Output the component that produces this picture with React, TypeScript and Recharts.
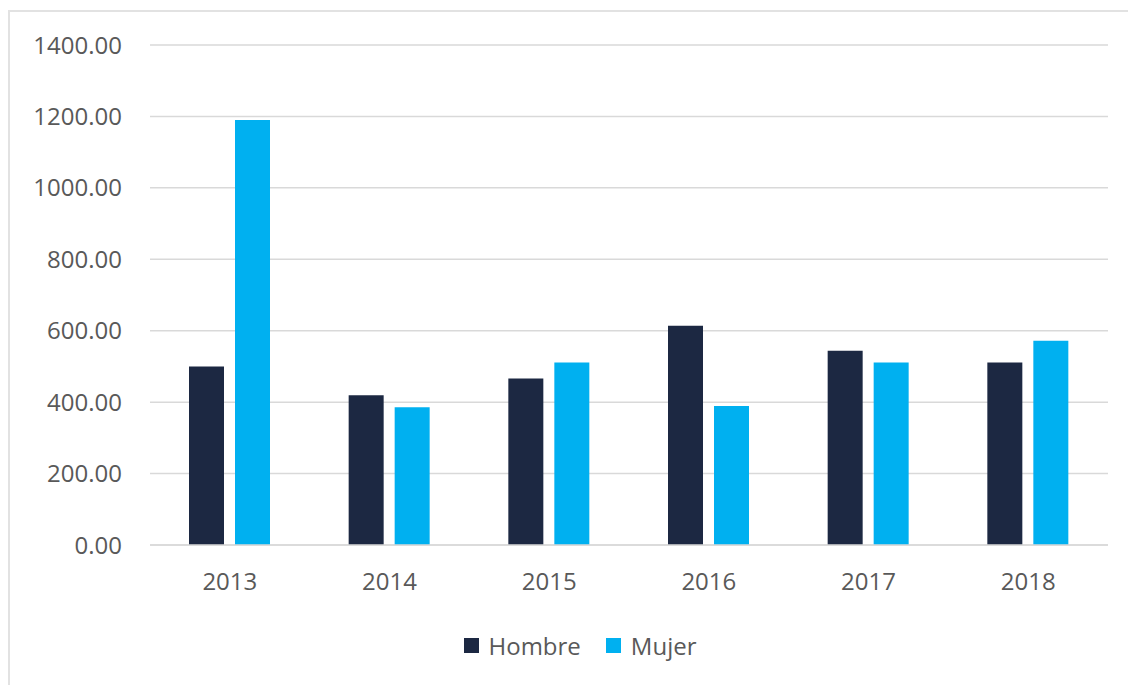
import { BarChart, Bar, XAxis, YAxis, CartesianGrid, Legend } from "recharts";

const years = ["2013", "2014", "2015", "2016", "2017", "2018"];
const hombre = [500, 419, 466, 614, 544, 511];
const mujer = [1190, 386, 511, 389, 511, 572];
const yTicks = [0, 200, 400, 600, 800, 1000, 1200, 1400];

const data = years.map((year, i) => ({ year, Hombre: hombre[i], Mujer: mujer[i] }));

const font = "'Open Sans', sans-serif";
const textColor = "#595959";

function LegendContent({ payload }: any) {
  return (
    <div style={{ display: "flex", justifyContent: "center", alignItems: "center", paddingLeft: 42, height: 40 }}>
      {(payload || []).map((p: any, i: number) => (
        <div key={p.value} style={{ display: "flex", alignItems: "center", marginLeft: i ? 25 : 0 }}>
          <span style={{ width: 15, height: 15, background: p.color, display: "inline-block", marginRight: 10 }} />
          <span style={{ fontFamily: font, fontSize: 24, color: textColor }}>{p.value}</span>
        </div>
      ))}
    </div>
  );
}

export default function App() {
  return (
    <div
      style={{
        position: "absolute",
        left: 8,
        top: 10,
        borderTop: "2px solid #e2e2e2",
        borderLeft: "2px solid #e2e2e2",
        background: "#fff",
      }}
    >
      <BarChart
        width={1118}
        height={673}
        data={data}
        margin={{ top: 33, right: 20, left: 0, bottom: 20 }}
        barGap={11}
        barSize={35}
      >
        <CartesianGrid vertical={false} stroke="#d9d9d9" strokeWidth={1.5} />
        <XAxis
          dataKey="year"
          height={80}
          tickLine={false}
          tickSize={0}
          tickMargin={28}
          axisLine={{ stroke: "#d9d9d9", strokeWidth: 1.5 }}
          tick={{ fontSize: 24, fill: textColor, fontFamily: font }}
        />
        <YAxis
          width={140}
          domain={[0, 1400]}
          ticks={yTicks}
          interval={0}
          tickFormatter={(v: number) => v.toFixed(2)}
          axisLine={false}
          tickLine={false}
          tickSize={0}
          tickMargin={28}
          tick={{ fontSize: 24, fill: textColor, fontFamily: font }}
        />
        <Legend verticalAlign="bottom" height={40} content={<LegendContent />} />
        <Bar dataKey="Hombre" fill="#1c2842" isAnimationActive={false} />
        <Bar dataKey="Mujer" fill="#00b0f0" isAnimationActive={false} />
      </BarChart>
    </div>
  );
}
